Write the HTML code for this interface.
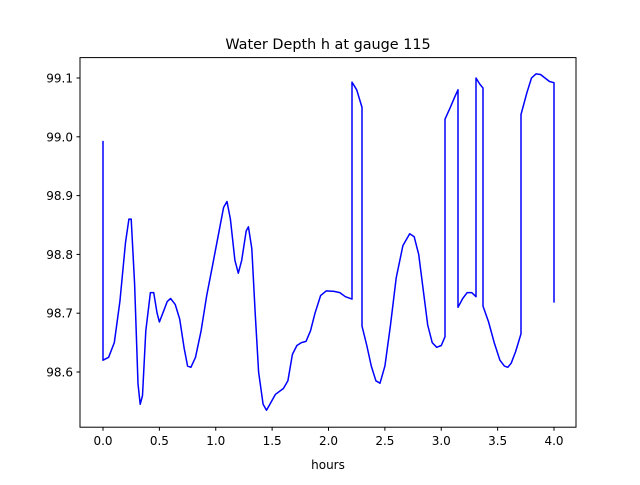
<!DOCTYPE html>
<html><head><meta charset="utf-8"><style>
body{margin:0;background:#fff;font-family:"Liberation Sans","DejaVu Sans",sans-serif}
svg text{font-family:"DejaVu Sans","Liberation Sans",sans-serif;font-size:12px;fill:#000}
</style></head><body>
<svg id="chart" width="640" height="480" xmlns="http://www.w3.org/2000/svg">
<rect width="640" height="480" fill="#fff"/>
<text x="328" y="49" text-anchor="middle" style="font-size:14.4px">Water Depth h at gauge 115</text>
<g id="plot"></g>
<rect x="80" y="57.6" width="496" height="369.6" fill="none" stroke="#000" stroke-width="1"/>
<text x="328" y="469" text-anchor="middle">hours</text>
</svg>
<script>
const times=[0,0,0.05,0.1,0.15,0.2,0.23,0.25,0.28,0.31,0.33,0.35,0.38,0.42,0.45,0.48,0.5,0.53,0.57,0.6,0.64,0.68,0.72,0.75,0.78,0.82,0.87,0.92,0.97,1.02,1.07,1.1,1.13,1.17,1.2,1.23,1.27,1.29,1.32,1.35,1.38,1.42,1.45,1.48,1.53,1.6,1.64,1.68,1.72,1.76,1.8,1.84,1.88,1.93,1.98,2.05,2.1,2.15,2.208,2.208,2.25,2.297,2.297,2.34,2.38,2.42,2.457,2.5,2.55,2.6,2.66,2.72,2.76,2.8,2.84,2.88,2.92,2.96,3.0,3.033,3.033,3.08,3.12,3.149,3.149,3.19,3.23,3.27,3.308,3.308,3.34,3.37,3.37,3.42,3.47,3.52,3.56,3.59,3.62,3.66,3.707,3.707,3.76,3.8,3.84,3.88,3.92,3.96,4.0,4.0];
const depth=[98.993,98.62,98.625,98.65,98.72,98.82,98.86,98.86,98.75,98.58,98.545,98.56,98.67,98.735,98.735,98.70,98.685,98.70,98.72,98.725,98.715,98.69,98.64,98.61,98.608,98.625,98.67,98.73,98.78,98.83,98.88,98.89,98.86,98.79,98.768,98.79,98.84,98.847,98.81,98.70,98.60,98.545,98.535,98.545,98.562,98.572,98.585,98.63,98.645,98.65,98.652,98.67,98.70,98.73,98.738,98.737,98.735,98.728,98.724,99.093,99.08,99.05,98.678,98.645,98.61,98.585,98.581,98.61,98.68,98.76,98.815,98.835,98.83,98.80,98.74,98.68,98.65,98.642,98.645,98.66,99.03,99.05,99.068,99.08,98.71,98.725,98.735,98.735,98.728,99.1,99.09,99.083,98.712,98.685,98.65,98.62,98.61,98.608,98.615,98.635,98.665,99.038,99.075,99.1,99.107,99.106,99.1,99.094,99.092,98.718];
const xTicks=[0,0.5,1,1.5,2,2.5,3,3.5,4];
const xTickLabels=["0.0","0.5","1.0","1.5","2.0","2.5","3.0","3.5","4.0"];
const yTicks=[98.6,98.7,98.8,98.9,99.0,99.1];
const yTickLabels=["98.6","98.7","98.8","98.9","99.0","99.1"];
const NS="http://www.w3.org/2000/svg";
const xs=t=>103+t*112.75;
const ys=v=>372-(v-98.6)*588;
const g=document.getElementById('plot');
function mk(tag,attrs){const e=document.createElementNS(NS,tag);for(const k in attrs)e.setAttribute(k,attrs[k]);g.appendChild(e);return e;}
xTicks.forEach((t,i)=>{
 const l=mk('line',{x1:xs(t),x2:xs(t),y1:427.2,y2:430.7,stroke:'#000'});
 
 
 const tx=mk('text',{x:xs(t),y:445,'text-anchor':'middle'});tx.textContent=xTickLabels[i];
 
 
});
yTicks.forEach((v,i)=>{
 const l=mk('line',{x1:76.5,x2:80,y1:ys(v),y2:ys(v),stroke:'#000'});
 
 
 const tx=mk('text',{x:73,y:ys(v)+4.5,'text-anchor':'end'});tx.textContent=yTickLabels[i];
 
 
});
const d=times.map((t,i)=>(i?'L':'M')+xs(t).toFixed(1)+' '+ys(depth[i]).toFixed(1)).join(' ');
const p=mk('path',{d:d,fill:'none',stroke:'#0000ff','stroke-width':1.5,'stroke-linejoin':'round'});


</script>
</body></html>
